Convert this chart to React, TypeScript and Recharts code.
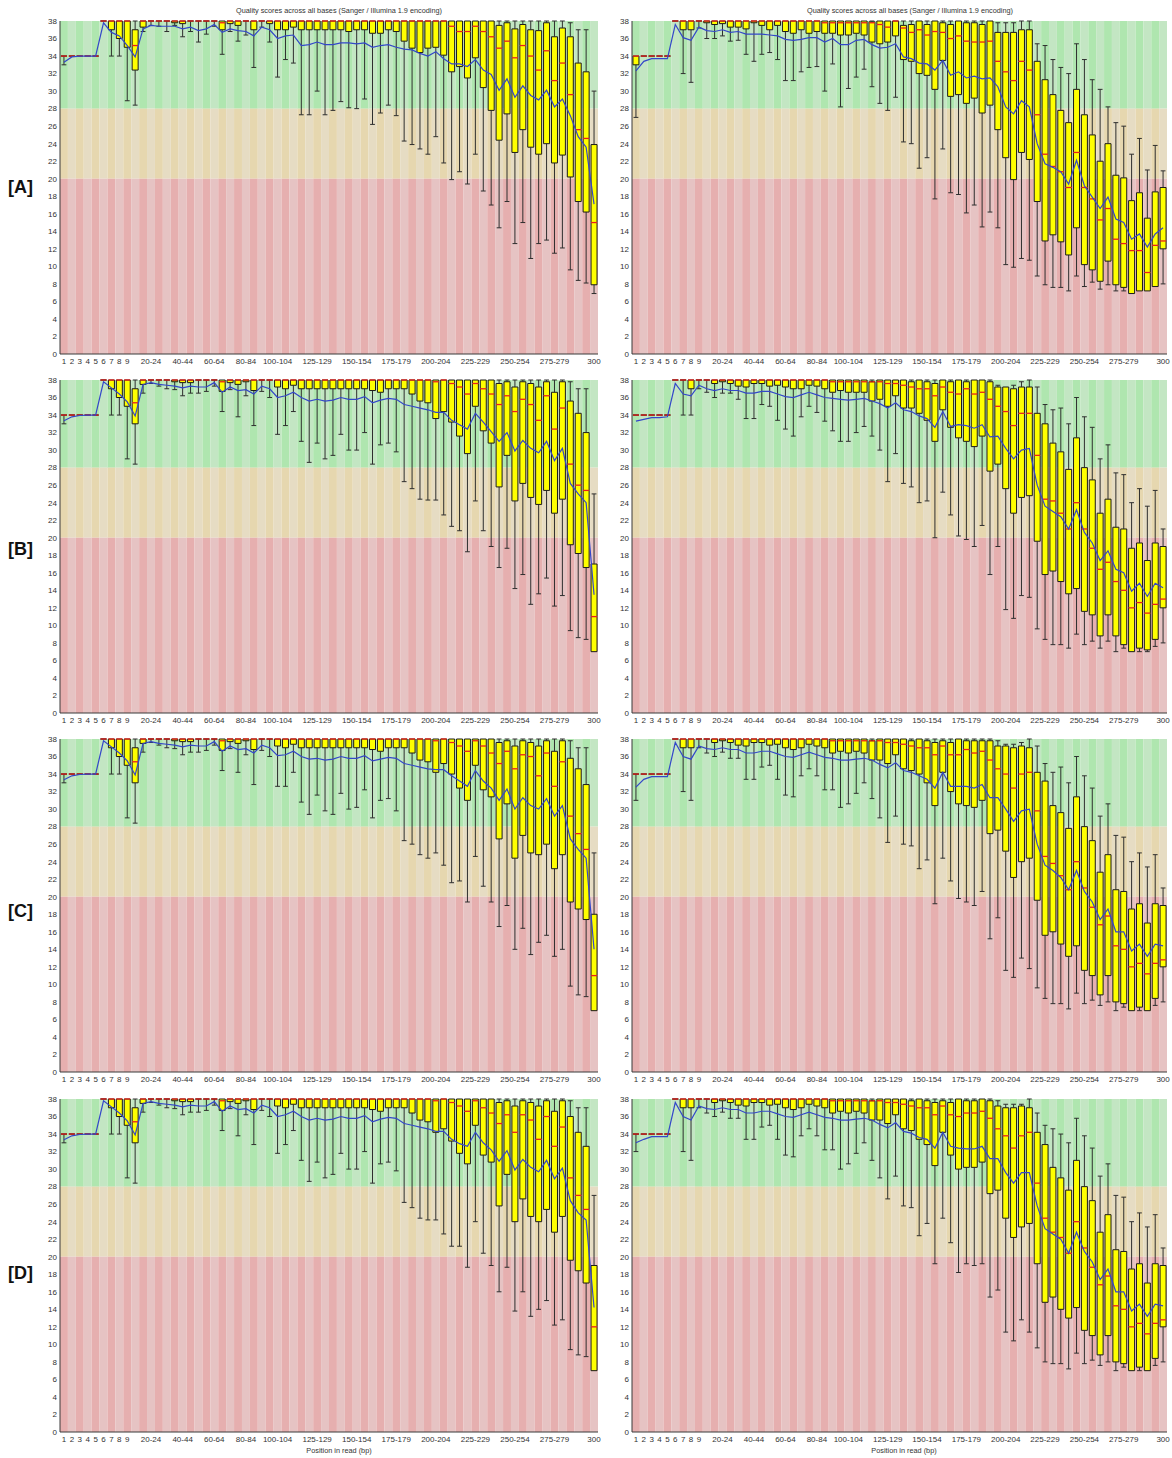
import React from 'react';
import { ComposedChart, Bar, Line, XAxis, YAxis, ReferenceArea } from 'recharts';

// Read positions (FastQC grouping for 300 bp reads)
const positions = [
  '1', '2', '3', '4', '5', '6', '7', '8', '9', '10-14',
  '15-19', '20-24', '25-29', '30-34', '35-39', '40-44', '45-49', '50-54', '55-59', '60-64',
  '65-69', '70-74', '75-79', '80-84', '85-89', '90-94', '95-99', '100-104', '105-109', '110-114',
  '115-119', '120-124', '125-129', '130-134', '135-139', '140-144', '145-149', '150-154', '155-159', '160-164',
  '165-169', '170-174', '175-179', '180-184', '185-189', '190-194', '195-199', '200-204', '205-209', '210-214',
  '215-219', '220-224', '225-229', '230-234', '235-239', '240-244', '245-249', '250-254', '255-259', '260-264',
  '265-269', '270-274', '275-279', '280-284', '285-289', '290-294', '295-299', '300',
];

const shownPositions = [
  '1', '2', '3', '4', '5', '6', '7', '8', '9', '20-24', '40-44', '60-64', '80-84', '100-104',
  '125-129', '150-154', '175-179', '200-204', '225-229', '250-254', '275-279', '300',
];

const qualityTicks = [0, 2, 4, 6, 8, 10, 12, 14, 16, 18, 20, 22, 24, 26, 28, 30, 32, 34, 36, 38];

const panelLetters = ['[A]', '[B]', '[C]', '[D]'];
const chartTitle = 'Quality scores across all bases (Sanger / Illumina 1.9 encoding)';
const axisTitle = 'Position in read (bp)';

// ---------- [A] left ----------
const aLeftP10 = [
  33, 34, 34, 34, 34, 38, 34, 34, 28.9, 28.4,
  36.8, 37.5, 37.4, 36.8, 37.5, 36.2, 36.8, 35.6, 36.5, 37.4,
  34.2, 36.8, 35.7, 36.4, 32.7, 37.3, 35.6, 31.6, 33.6, 33.2,
  27.3, 27.3, 30.0, 27.3, 27.8, 28.8, 28.1, 28.0, 29.1, 26.2,
  27.5, 28.4, 27.2, 24.3, 23.9, 23.4, 22.8, 24.8, 21.8, 19.9,
  20.8, 19.4, 22.8, 18.6, 17.0, 14.4, 17.4, 12.6, 15.0, 10.9,
  12.6, 13.0, 11.5, 12.1, 9.6, 8.4, 8.1, 6.9,
];
const aLeftQ1 = [
  34, 34, 34, 34, 34, 38, 37, 36, 35, 32.4,
  37.3, 38, 38, 38, 37.8, 37.7, 38, 38, 38, 38,
  37.0, 37.7, 37.5, 38, 37, 38, 37.7, 37, 37, 37.3,
  37, 37, 37, 37, 37, 37.0, 36.8, 37.0, 37.0, 36.6,
  36.6, 37.0, 36.8, 35.7, 34.9, 34.4, 34.9, 35.0, 34.1, 32.2,
  32.8, 31.5, 33.8, 30.4, 27.8, 24.4, 27.4, 23.0, 25.6, 23.6,
  22.8, 24.0, 21.8, 22.7, 20.2, 17.4, 16.2, 7.9,
];
const aLeftMedian = [
  34, 34, 34, 34, 34, 38, 38, 38, 38, 35.2,
  38, 38, 38, 38, 38, 38, 38, 38, 38, 38,
  37.8, 38, 38, 38, 38, 38, 38, 38, 38, 38,
  38, 38, 38, 38, 38, 38, 38, 38, 38, 38,
  38, 38, 38, 38, 38, 38, 38, 38, 38, 37.4,
  36.8, 36.8, 37.4, 36.8, 36.2, 34.9, 35.7, 33.8, 35.2, 34.0,
  32.4, 34.6, 31.2, 33.2, 29.6, 25.6, 24.6, 15.0,
];
const aLeftQ3 = [
  34, 34, 34, 34, 34, 38, 38, 38, 38, 37,
  38, 38, 38, 38, 38, 38, 38, 38, 38, 38,
  38, 38, 38, 38, 38, 38, 38, 38, 38, 38,
  38, 38, 38, 38, 38, 38, 38, 38, 38, 38,
  38, 38, 38, 38, 38, 38, 38, 38, 38, 38,
  38, 38, 38, 38, 38, 37.5, 37.8, 37.1, 37.6, 37.0,
  36.9, 37.8, 36.2, 37.2, 36.2, 33.2, 32.2, 23.9,
];
const aLeftP90 = [
  34, 34, 34, 34, 34, 38, 38, 38, 38, 38,
  38, 38, 38, 38, 38, 38, 38, 38, 38, 38,
  38, 38, 38, 38, 38, 38, 38, 38, 38, 38,
  38, 38, 38, 38, 38, 38, 38, 38, 38, 38,
  38, 38, 38, 38, 38, 38, 38, 38, 38, 38,
  38, 38, 38, 38, 38, 38, 38, 38, 38, 38,
  38, 38, 38, 38, 37.8, 37.0, 37.0, 30.0,
];
const aLeftMean = [
  33.3, 33.9, 34, 34, 34, 37.8, 36.7, 36.3, 35.2, 33.9,
  37.1, 37.5, 37.4, 37.4, 37.4, 37.1, 37.3, 36.9, 37.1, 37.6,
  36.7, 37.1, 36.9, 36.8, 36.3, 37.3, 37.0, 36.0, 36.3, 36.4,
  35.2, 35.3, 35.6, 35.3, 35.3, 35.5, 35.5, 35.4, 35.5, 35.0,
  35.2, 35.3, 35.0, 34.8, 34.7, 34.3, 34.0, 34.5, 33.7, 33.1,
  33.1, 32.8, 33.6, 32.4, 31.9, 30.1, 31.4, 29.3, 30.6, 29.5,
  29.0, 30.1, 28.2, 29.1, 27.2, 24.8, 23.6, 17.1,
];

// ---------- [A] right ----------
const aRightP10 = [
  27.0, 34, 34, 34, 34, 38, 32.0, 31.0, 37.2, 36.0,
  36.0, 36.3, 35.7, 35.8, 34.2, 33.4, 34.2, 34.4, 33.6, 31.2,
  31.2, 32.2, 32.7, 32.8, 30.0, 33.1, 28.2, 30.3, 31.6, 32.5,
  30.5, 28.6, 27.8, 29.3, 24.2, 24.0, 21.2, 22.4, 17.7, 23.4,
  18.4, 18.2, 16.1, 17.0, 14.5, 16.2, 14.4, 10.2, 9.9, 10.9,
  10.7, 8.9, 7.9, 7.6, 7.6, 7.2, 8.9, 7.7, 8.2, 7.4,
  7.9, 7.2, 7.2, 6.9, 7.2, 7.2, 7.7, 8.0,
];
const aRightQ1 = [
  33.0, 34, 34, 34, 34, 38, 37, 37, 38, 37.8,
  37.6, 37.7, 37.3, 37.3, 37.1, 37.8, 37.5, 37.0, 37.5, 36.8,
  36.6, 37.0, 36.6, 36.8, 36.6, 36.6, 36.4, 36.4, 36.6, 36.4,
  35.6, 35.4, 35.6, 36.3, 33.6, 33.4, 32.0, 31.8, 30.2, 33.5,
  29.4, 29.6, 28.6, 29.2, 27.5, 28.4, 25.6, 22.4, 19.9, 23.0,
  22.2, 17.4, 12.9, 13.6, 12.8, 11.3, 14.4, 10.2, 9.6, 8.3,
  10.6, 7.9, 7.6, 6.9, 7.2, 7.2, 7.7, 12.0,
];
const aRightMedian = [
  34, 34, 34, 34, 34, 38, 38, 38, 38, 38,
  38, 38, 38, 38, 38, 38, 38, 38, 38, 38,
  38, 38, 38, 38, 37.8, 37.8, 37.8, 37.8, 37.8, 37.8,
  37.8, 37.6, 37.3, 38, 37.2, 36.7, 37.0, 36.4, 36.8, 36.7,
  36.0, 36.3, 35.7, 35.6, 35.6, 35.7, 33.4, 32.2, 31.2, 33.4,
  32.4, 27.3, 22.8, 21.4, 20.8, 19.0, 23.0, 19.0, 17.7, 15.3,
  16.6, 13.1, 12.6, 11.8, 11.8, 9.3, 12.4, 12.9,
];
const aRightQ3 = [
  34, 34, 34, 34, 34, 38, 38, 38, 38, 38,
  38, 38, 38, 38, 38, 38, 38, 38, 38, 38,
  38, 38, 38, 38, 38, 38, 38, 38, 38, 38,
  37.9, 38, 38, 38, 37.5, 37.6, 38, 37.6, 38, 37.8,
  37.6, 38, 37.8, 37.8, 37.6, 38, 36.7, 36.7, 36.7, 37.0,
  37.0, 33.4, 31.3, 29.6, 27.8, 26.4, 30.2, 27.3, 25.0, 22.0,
  24.0, 20.4, 20.1, 17.5, 18.4, 15.5, 18.5, 19.0,
];
const aRightP90 = [
  34, 34, 34, 34, 34, 38, 38, 38, 38, 38,
  38, 38, 38, 38, 38, 38, 38, 38, 38, 38,
  38, 38, 38, 38, 38, 38, 38, 38, 38, 38,
  38, 38, 38, 38, 38, 38, 38, 38, 38, 38,
  38, 38, 38, 38, 38, 38, 37.8, 37.8, 37.8, 38,
  38, 35.4, 35.2, 33.6, 32.7, 32.0, 35.4, 33.6, 31.3, 30.2,
  28.2, 26.4, 26.0, 22.8, 24.6, 21.0, 23.8, 20.9,
];
const aRightMean = [
  32.3, 33.4, 33.7, 33.7, 33.7, 37.6, 36.1, 35.8, 37.3, 36.9,
  36.8, 37.0, 36.7, 36.8, 36.5, 36.5, 36.5, 36.4, 36.3, 35.9,
  35.8, 35.9, 36.1, 36.1, 35.6, 36.0, 35.3, 35.3, 35.8, 35.9,
  35.3, 34.9, 35.0, 35.4, 33.9, 33.7, 33.2, 33.1, 32.4, 33.5,
  31.8, 32.2, 31.5, 31.7, 31.4, 31.5, 30.5, 28.2, 27.4, 28.9,
  28.2, 24.0, 21.7, 21.3, 20.8, 19.4, 22.1, 19.2, 17.9, 16.6,
  17.9, 15.4, 15.0, 13.1, 13.7, 12.2, 13.7, 14.4,
];

// ---------- [B] left ----------
const bLeftP10 = [
  33, 34, 34, 34, 34, 38, 34, 34, 29, 28.4,
  36.5, 37.6, 37.3, 37.0, 36.9, 36.2, 36.5, 36.5, 36.7, 37.3,
  34.4, 36.9, 33.8, 36.2, 32.8, 36.7, 36.0, 31.8, 32.8, 34.4,
  31.0, 28.6, 30.8, 29.0, 29.4, 31.8, 30.0, 30.0, 32.0, 28.4,
  30.6, 30.8, 29.8, 26.4, 25.6, 24.4, 24.3, 24.3, 22.6, 21.3,
  20.8, 18.4, 24.2, 20.8, 19.0, 16.6, 18.8, 14.2, 15.8, 12.4,
  13.6, 15.4, 12.2, 13.4, 9.4, 8.6, 8.4, 7.0,
];
const bLeftQ1 = [
  34, 34, 34, 34, 34, 38, 37, 36, 35, 33,
  37.5, 38, 38, 38, 37.8, 37.7, 37.7, 38, 38, 38,
  36.7, 37.7, 37.5, 37.8, 36.8, 38, 38, 37.2, 37, 37.4,
  37, 37, 37, 37, 37, 37, 37, 37, 37, 36.8,
  36.6, 37, 37, 37, 36.4, 35.6, 35.4, 33.6, 34.4, 33.2,
  31.6, 29.6, 35.0, 32.2, 30.8, 25.8, 29.4, 24.2, 26.2, 24.6,
  23.8, 25.4, 22.8, 24.4, 19.2, 18.2, 16.6, 7.0,
];
const bLeftMedian = [
  34, 34, 34, 34, 34, 38, 38, 38, 38, 35.4,
  38, 38, 38, 38, 38, 38, 38, 38, 38, 38,
  37.8, 38, 38, 38, 38, 38, 38, 38, 38, 38,
  38, 38, 38, 38, 38, 38, 38, 38, 38, 38,
  38, 38, 38, 38, 38, 38, 38, 37.8, 38, 37.6,
  37.2, 36.4, 37.6, 37.0, 36.4, 35.2, 36.2, 34.4, 35.8, 35.2,
  33.4, 36.2, 32.4, 34.8, 28.4, 26.0, 25.4, 11.0,
];
const bLeftQ3 = [
  34, 34, 34, 34, 34, 38, 38, 38, 38, 37,
  38, 38, 38, 38, 38, 38, 38, 38, 38, 38,
  38, 38, 38, 38, 38, 38, 38, 38, 38, 38,
  38, 38, 38, 38, 38, 38, 38, 38, 38, 38,
  38, 38, 38, 38, 38, 38, 38, 38, 38, 38,
  38, 38, 38, 38, 38, 37.6, 37.8, 37.2, 37.8, 37.6,
  37.2, 37.8, 36.6, 37.8, 35.6, 34.2, 32.0, 17.0,
];
const bLeftP90 = [
  34, 34, 34, 34, 34, 38, 38, 38, 38, 38,
  38, 38, 38, 38, 38, 38, 38, 38, 38, 38,
  38, 38, 38, 38, 38, 38, 38, 38, 38, 38,
  38, 38, 38, 38, 38, 38, 38, 38, 38, 38,
  38, 38, 38, 38, 38, 38, 38, 38, 38, 38,
  38, 38, 38, 38, 38, 38, 38, 38, 38, 38,
  38, 38, 38, 38, 37.8, 37.0, 37.0, 25.0,
];
const bLeftMean = [
  33.35, 33.8, 33.95, 34, 34, 37.8, 37.1, 36.4, 35.5, 33.9,
  37.5, 37.7, 37.5, 37.4, 37.3, 37.1, 37.3, 37.2, 37.2, 37.7,
  36.6, 37.2, 36.8, 36.9, 36.4, 37.3, 37.0, 36.0, 36.2, 36.6,
  36.0, 35.6, 35.8, 35.6, 35.7, 36.0, 35.8, 35.8, 36.1, 35.4,
  35.7, 35.9, 35.8, 35.2, 35.0, 34.8, 34.6, 34.3, 34.3, 33.4,
  32.9, 32.4, 34.2, 33.2, 32.1, 31.0, 32.0, 29.9, 31.1, 30.2,
  29.7, 31.0, 28.8, 30.2, 26.2, 25.0, 24.0, 13.5,
];

// ---------- [B] right ----------
const bRightP10 = [
  34, 34, 34, 34, 34, 38, 34.0, 34.0, 37.0, 36.6,
  36.0, 36.5, 36.5, 35.8, 33.6, 33.6, 35.2, 35.0, 33.4, 32.4,
  31.6, 33.8, 35.0, 34.3, 33.3, 32.2, 31.0, 31.0, 32.0, 32.7,
  31.6, 30.0, 26.4, 29.6, 26.2, 25.8, 24.0, 24.2, 20.0, 25.2,
  22.6, 20.2, 19.8, 19.0, 21.4, 15.8, 19.0, 11.8, 10.8, 13.4,
  13.2, 9.6, 8.4, 7.8, 7.8, 7.4, 9.0, 7.8, 8.2, 7.4,
  8.2, 7.0, 7.4, 7.0, 7.0, 7.0, 7.6, 8.0,
];
const bRightQ1 = [
  34, 34, 34, 34, 34, 38, 38, 37.0, 38, 38,
  37.6, 37.8, 37.6, 37.3, 37.2, 37.6, 37.6, 37.3, 37.4, 37.2,
  37.0, 37.0, 37.4, 37.3, 37.0, 36.6, 36.8, 36.6, 36.6, 36.6,
  35.6, 35.8, 35.0, 36.2, 34.8, 34.8, 34.2, 33.4, 31.0, 34.6,
  32.6, 31.4, 31.0, 30.4, 31.6, 27.6, 28.4, 25.6, 22.8, 24.6,
  24.8, 19.6, 15.8, 16.2, 15.0, 13.6, 14.2, 11.6, 11.2, 8.8,
  11.2, 8.8, 7.8, 7.0, 7.4, 7.2, 8.4, 12.0,
];
const bRightMedian = [
  34, 34, 34, 34, 34, 38, 38, 38, 38, 38,
  38, 38, 38, 38, 38, 38, 38, 38, 38, 38,
  38, 38, 38, 38, 38, 37.8, 37.8, 37.8, 37.8, 37.8,
  37.8, 37.8, 37.6, 37.6, 37.4, 37.2, 37.0, 37.0, 36.2, 37.2,
  36.6, 36.4, 37.0, 36.4, 36.6, 35.8, 35.0, 34.4, 32.8, 34.2,
  34.2, 29.4, 24.4, 24.2, 22.8, 21.0, 24.0, 21.0, 18.8, 16.4,
  17.2, 15.0, 14.0, 12.0, 12.6, 11.4, 12.4, 13.0,
];
const bRightQ3 = [
  34, 34, 34, 34, 34, 38, 38, 38, 38, 38,
  38, 38, 38, 38, 38, 38, 38, 38, 38, 38,
  38, 38, 38, 38, 38, 38, 38, 38, 38, 38,
  37.8, 38, 38, 38, 38, 37.8, 38, 37.8, 37.6, 38,
  37.8, 38, 37.8, 38, 38, 37.8, 37.2, 37.2, 37.0, 37.2,
  37.2, 34.2, 33.0, 30.8, 29.8, 27.8, 31.4, 28.0, 26.6, 22.8,
  24.4, 21.2, 21.0, 18.8, 19.4, 17.4, 19.4, 19.0,
];
const bRightP90 = [
  34, 34, 34, 34, 34, 38, 38, 38, 38, 38,
  38, 38, 38, 38, 38, 38, 38, 38, 38, 38,
  38, 38, 38, 38, 38, 38, 38, 38, 38, 38,
  38, 38, 38, 38, 38, 38, 38, 38, 38, 38,
  38, 38, 38, 38, 38, 38, 37.4, 37.2, 37.4, 37.8,
  38, 37.2, 35.2, 34.6, 34.8, 33.0, 36.0, 33.8, 32.6, 29.0,
  30.6, 27.4, 27.2, 24.0, 25.6, 23.6, 25.4, 21.0,
];
const bRightMean = [
  33.3, 33.5, 33.7, 33.7, 33.8, 37.6, 36.4, 36.2, 37.4, 37.0,
  36.8, 37.0, 36.8, 36.8, 36.5, 36.5, 36.7, 36.7, 36.4, 36.1,
  36.0, 36.3, 36.6, 36.3, 36.0, 35.9, 35.8, 35.7, 35.8, 35.9,
  35.6, 35.3, 34.8, 35.4, 34.6, 34.4, 33.9, 33.6, 32.6, 34.4,
  32.7, 32.9, 32.8, 32.5, 32.9, 31.5, 31.6, 30.2, 29.0, 30.0,
  30.2, 26.0, 23.6, 23.0, 22.4, 21.0, 23.2, 20.6, 19.4, 17.4,
  18.5, 16.4, 16.0, 13.9, 14.8, 13.3, 14.8, 14.3,
];

// ---------- [C] left ----------
const cLeftP10 = [
  33, 34, 34, 34, 34, 38, 34, 34, 29, 28.4,
  36.5, 37.6, 37.3, 37.0, 36.9, 36.2, 36.5, 36.5, 36.7, 37.3,
  34.4, 36.9, 34.2, 36.2, 32.8, 36.7, 36.0, 32.6, 32.6, 34.2,
  30.8, 29.4, 31.6, 29.8, 29.4, 31.8, 30.0, 30.2, 32.2, 29.0,
  31.0, 31.2, 29.8, 26.4, 26.0, 24.8, 24.4, 25.0, 23.6, 21.6,
  21.8, 19.4, 24.6, 21.2, 19.4, 16.6, 19.0, 14.0, 16.4, 13.4,
  14.8, 15.6, 13.2, 14.0, 9.8, 8.8, 8.6, 7.0,
];
const cLeftQ1 = [
  34, 34, 34, 34, 34, 38, 37, 36, 35, 33,
  37.5, 38, 38, 38, 37.8, 37.7, 37.7, 38, 38, 38,
  36.7, 37.7, 37.5, 37.8, 36.8, 38, 38, 37.2, 37, 37.4,
  37, 37, 37, 37, 37, 37, 37, 37, 37, 36.8,
  36.6, 37, 37, 37, 36.4, 35.6, 35.4, 34.2, 35.2, 34.0,
  32.4, 31.0, 35.0, 32.2, 31.4, 26.6, 30.6, 24.4, 27.0, 25.0,
  24.8, 26.0, 23.2, 24.8, 19.4, 18.6, 17.4, 7.0,
];
const cLeftMedian = [
  34, 34, 34, 34, 34, 38, 38, 38, 38, 35.4,
  38, 38, 38, 38, 38, 38, 38, 38, 38, 38,
  37.8, 38, 38, 38, 38, 38, 38, 38, 38, 38,
  38, 38, 38, 38, 38, 38, 38, 38, 38, 38,
  38, 38, 38, 38, 38, 38, 38, 37.8, 38, 37.6,
  37.2, 36.6, 37.8, 37.2, 36.4, 35.2, 36.6, 34.6, 36.2, 36.0,
  33.8, 36.4, 32.6, 35.4, 29.2, 27.2, 25.4, 11.0,
];
const cLeftQ3 = [
  34, 34, 34, 34, 34, 38, 38, 38, 38, 37,
  38, 38, 38, 38, 38, 38, 38, 38, 38, 38,
  38, 38, 38, 38, 38, 38, 38, 38, 38, 38,
  38, 38, 38, 38, 38, 38, 38, 38, 38, 38,
  38, 38, 38, 38, 38, 38, 38, 38, 38, 38,
  38, 38, 38, 38, 38, 37.6, 37.8, 37.2, 37.8, 37.6,
  37.2, 37.8, 36.6, 37.8, 35.8, 34.6, 32.8, 18.0,
];
const cLeftP90 = [
  34, 34, 34, 34, 34, 38, 38, 38, 38, 38,
  38, 38, 38, 38, 38, 38, 38, 38, 38, 38,
  38, 38, 38, 38, 38, 38, 38, 38, 38, 38,
  38, 38, 38, 38, 38, 38, 38, 38, 38, 38,
  38, 38, 38, 38, 38, 38, 38, 38, 38, 38,
  38, 38, 38, 38, 38, 38, 38, 38, 38, 38,
  38, 38, 38, 38, 37.8, 37.0, 37.0, 25.0,
];
const cLeftMean = [
  33.35, 33.8, 33.95, 34, 34, 37.8, 37.1, 36.4, 35.5, 33.9,
  37.5, 37.7, 37.5, 37.4, 37.3, 37.1, 37.3, 37.2, 37.2, 37.7,
  36.6, 37.2, 36.8, 36.9, 36.4, 37.3, 37.0, 36.1, 36.2, 36.6,
  36.0, 35.7, 35.8, 35.6, 35.7, 36.0, 35.8, 35.8, 36.1, 35.5,
  35.7, 35.9, 35.8, 35.2, 35.0, 34.8, 34.6, 34.5, 34.5, 33.8,
  33.2, 32.6, 34.4, 33.2, 32.4, 31.0, 32.3, 30.0, 31.3, 30.4,
  30.0, 31.2, 29.2, 30.4, 26.6, 25.4, 24.4, 14.0,
];

// ---------- [C] right ----------
const cRightP10 = [
  31.0, 34, 34, 34, 34, 38, 32.0, 31.0, 37.0, 36.4,
  36.0, 36.5, 35.8, 35.8, 33.4, 33.4, 34.8, 35.0, 33.4, 31.6,
  31.4, 33.8, 34.6, 33.8, 32.2, 32.2, 30.2, 30.6, 31.8, 33.0,
  31.2, 29.0, 26.2, 29.2, 26.0, 25.8, 23.2, 24.2, 19.2, 24.4,
  21.8, 19.8, 19.4, 19.0, 20.6, 15.2, 17.6, 11.6, 10.8, 13.0,
  11.8, 9.6, 8.4, 7.8, 7.8, 7.2, 9.0, 7.8, 8.2, 7.6,
  8.0, 7.0, 7.4, 7.0, 7.0, 7.0, 7.6, 8.0,
];
const cRightQ1 = [
  34, 34, 34, 34, 34, 38, 37.0, 37.0, 38, 38,
  37.6, 37.8, 37.6, 37.3, 37.2, 37.6, 37.6, 37.3, 37.4, 37.0,
  36.8, 37.0, 37.4, 37.2, 37.0, 36.4, 36.6, 36.4, 36.6, 36.4,
  35.6, 35.6, 35.2, 36.2, 34.6, 34.4, 34.0, 33.0, 30.4, 34.2,
  32.0, 30.6, 30.4, 30.2, 31.0, 27.2, 27.6, 25.2, 22.2, 24.0,
  24.4, 19.6, 15.6, 16.0, 14.6, 13.2, 14.4, 11.6, 11.0, 8.8,
  11.0, 8.0, 7.8, 7.0, 7.4, 7.0, 8.4, 12.0,
];
const cRightMedian = [
  34, 34, 34, 34, 34, 38, 38, 38, 38, 38,
  38, 38, 38, 38, 38, 38, 38, 38, 38, 38,
  38, 38, 38, 38, 38, 37.8, 37.8, 37.8, 37.8, 37.8,
  37.8, 37.8, 37.6, 37.6, 37.4, 37.2, 37.0, 37.0, 36.2, 37.2,
  36.2, 36.2, 36.8, 36.4, 36.6, 35.6, 34.6, 34.0, 32.4, 34.0,
  34.2, 29.8, 24.6, 23.8, 22.4, 20.8, 24.0, 21.0, 18.8, 16.8,
  17.8, 14.4, 14.0, 12.0, 12.4, 11.2, 12.4, 12.8,
];
const cRightQ3 = [
  34, 34, 34, 34, 34, 38, 38, 38, 38, 38,
  38, 38, 38, 38, 38, 38, 38, 38, 38, 38,
  38, 38, 38, 38, 38, 38, 38, 38, 38, 38,
  37.8, 38, 38, 38, 38, 37.8, 38, 37.8, 37.6, 37.8,
  37.6, 38, 37.8, 37.8, 37.8, 37.8, 37.2, 37.2, 37.0, 37.2,
  37.0, 34.2, 33.2, 30.4, 29.6, 27.8, 31.4, 28.0, 26.4, 22.8,
  24.8, 20.8, 20.6, 18.6, 19.2, 17.0, 19.2, 19.0,
];
const cRightP90 = [
  34, 34, 34, 34, 34, 38, 38, 38, 38, 38,
  38, 38, 38, 38, 38, 38, 38, 38, 38, 38,
  38, 38, 38, 38, 38, 38, 38, 38, 38, 38,
  38, 38, 38, 38, 38, 38, 38, 38, 38, 38,
  38, 38, 38, 38, 38, 38, 37.8, 37.4, 37.4, 37.6,
  38, 37.2, 35.2, 34.2, 34.8, 33.0, 36.0, 33.8, 32.4, 29.2,
  30.6, 27.0, 26.8, 24.0, 25.0, 23.4, 24.8, 21.0,
];
const cRightMean = [
  32.5, 33.4, 33.7, 33.7, 33.7, 37.6, 36.0, 35.7, 37.2, 36.9,
  36.8, 37.0, 36.8, 36.8, 36.4, 36.4, 36.6, 36.6, 36.3, 36.0,
  35.9, 36.2, 36.5, 36.2, 35.9, 35.8, 35.6, 35.6, 35.7, 35.8,
  35.6, 35.1, 34.7, 35.3, 34.4, 34.2, 33.8, 33.4, 32.4, 34.2,
  32.6, 32.6, 32.6, 32.4, 32.8, 31.3, 31.3, 30.0, 28.6, 29.8,
  30.0, 26.0, 23.6, 23.0, 22.2, 20.8, 23.0, 20.6, 19.4, 17.4,
  18.6, 16.0, 16.0, 13.8, 14.6, 13.2, 14.6, 14.4,
];

// ---------- [D] left ----------
const dLeftP10 = [
  33, 34, 34, 34, 34, 38, 34, 34, 29, 28.4,
  36.5, 37.6, 37.3, 37.0, 36.9, 36.2, 36.5, 36.5, 36.7, 37.3,
  34.4, 36.9, 33.8, 36.2, 32.8, 36.7, 36.0, 31.8, 32.8, 34.4,
  31.0, 28.6, 30.8, 29.0, 29.4, 31.8, 30.0, 30.0, 32.0, 28.4,
  30.6, 30.8, 29.8, 26.2, 25.6, 24.4, 24.2, 24.2, 22.6, 21.2,
  21.2, 18.8, 24.0, 20.4, 19.0, 16.0, 18.8, 13.8, 16.0, 13.2,
  14.0, 15.0, 12.2, 12.8, 9.4, 8.8, 8.6, 7.0,
];
const dLeftQ1 = [
  34, 34, 34, 34, 34, 38, 37, 36, 35, 33,
  37.5, 38, 38, 38, 37.8, 37.7, 37.7, 38, 38, 38,
  36.7, 37.7, 37.5, 37.8, 36.8, 38, 38, 37.2, 37, 37.4,
  37, 37, 37, 37, 37, 37, 37, 37, 37, 36.8,
  36.6, 37, 37, 37, 36.4, 35.6, 35.4, 34.2, 34.6, 33.2,
  31.8, 30.6, 35.0, 31.6, 30.8, 25.8, 29.4, 24.0, 26.6, 24.6,
  24.0, 25.4, 22.8, 24.6, 19.6, 18.4, 17.0, 7.0,
];
const dLeftMedian = [
  34, 34, 34, 34, 34, 38, 38, 38, 38, 35.4,
  38, 38, 38, 38, 38, 38, 38, 38, 38, 38,
  37.8, 38, 38, 38, 38, 38, 38, 38, 38, 38,
  38, 38, 38, 38, 38, 38, 38, 38, 38, 38,
  38, 38, 38, 38, 38, 38, 38, 37.8, 38, 37.6,
  37.2, 36.6, 37.8, 37.0, 36.4, 35.2, 36.2, 34.2, 36.2, 35.6,
  33.4, 36.0, 32.6, 34.8, 29.0, 27.0, 25.4, 12.0,
];
const dLeftQ3 = [
  34, 34, 34, 34, 34, 38, 38, 38, 38, 37,
  38, 38, 38, 38, 38, 38, 38, 38, 38, 38,
  38, 38, 38, 38, 38, 38, 38, 38, 38, 38,
  38, 38, 38, 38, 38, 38, 38, 38, 38, 38,
  38, 38, 38, 38, 38, 38, 38, 38, 38, 38,
  38, 38, 38, 38, 38, 37.6, 37.8, 37.2, 37.8, 37.6,
  37.2, 37.8, 36.6, 37.8, 36.0, 34.2, 32.6, 19.0,
];
const dLeftP90 = [
  34, 34, 34, 34, 34, 38, 38, 38, 38, 38,
  38, 38, 38, 38, 38, 38, 38, 38, 38, 38,
  38, 38, 38, 38, 38, 38, 38, 38, 38, 38,
  38, 38, 38, 38, 38, 38, 38, 38, 38, 38,
  38, 38, 38, 38, 38, 38, 38, 38, 38, 38,
  38, 38, 38, 38, 38, 38, 38, 38, 38, 38,
  38, 38, 38, 38, 37.8, 37.0, 37.0, 27.0,
];
const dLeftMean = [
  33.35, 33.8, 33.95, 34, 34, 37.8, 37.1, 36.4, 35.5, 33.9,
  37.5, 37.7, 37.5, 37.4, 37.3, 37.1, 37.3, 37.2, 37.2, 37.7,
  36.6, 37.2, 36.8, 36.9, 36.4, 37.3, 37.0, 36.0, 36.2, 36.6,
  36.0, 35.6, 35.8, 35.6, 35.7, 36.0, 35.8, 35.8, 36.1, 35.4,
  35.7, 35.9, 35.8, 35.2, 35.0, 34.8, 34.6, 34.3, 34.3, 33.4,
  32.9, 32.6, 34.2, 33.0, 32.2, 30.9, 32.1, 29.9, 31.1, 30.2,
  29.7, 31.0, 28.9, 30.1, 26.4, 25.0, 24.2, 14.2,
];

// ---------- [D] right ----------
const dRightP10 = [
  32.0, 34, 34, 34, 34, 38, 32.0, 31.0, 37.0, 36.4,
  36.0, 36.5, 35.8, 35.8, 33.4, 33.4, 34.8, 35.0, 33.4, 31.6,
  31.4, 33.8, 34.6, 33.8, 32.2, 32.2, 30.0, 30.6, 31.8, 33.0,
  31.0, 29.0, 26.6, 29.2, 25.8, 25.6, 22.4, 23.8, 19.2, 24.4,
  21.6, 18.2, 19.2, 19.0, 19.2, 15.4, 16.2, 11.4, 10.4, 12.8,
  11.4, 9.6, 8.0, 7.8, 7.8, 7.2, 9.0, 7.8, 8.2, 7.6,
  8.0, 7.0, 7.4, 7.0, 7.0, 7.0, 7.6, 8.0,
];
const dRightQ1 = [
  34, 34, 34, 34, 34, 38, 37.0, 37.0, 38, 38,
  37.6, 37.8, 37.6, 37.3, 37.2, 37.6, 37.6, 37.3, 37.4, 37.0,
  36.8, 37.0, 37.4, 37.2, 37.0, 36.4, 36.6, 36.4, 36.6, 36.4,
  35.6, 35.6, 35.2, 36.2, 34.6, 34.4, 33.4, 32.8, 30.4, 34.2,
  31.6, 30.0, 30.2, 30.2, 30.8, 27.2, 27.6, 24.4, 22.2, 23.4,
  23.8, 19.2, 14.8, 15.4, 14.0, 13.0, 14.2, 11.6, 11.0, 8.8,
  11.0, 8.0, 7.8, 7.0, 7.4, 7.0, 8.4, 12.0,
];
const dRightMedian = [
  34, 34, 34, 34, 34, 38, 38, 38, 38, 38,
  38, 38, 38, 38, 38, 38, 38, 38, 38, 38,
  38, 38, 38, 38, 38, 37.8, 37.8, 37.8, 37.8, 37.8,
  37.8, 37.8, 37.6, 37.6, 37.4, 37.2, 37.0, 37.0, 36.2, 37.2,
  36.2, 36.0, 36.4, 36.4, 36.6, 35.8, 34.6, 33.8, 32.4, 33.8,
  34.2, 28.4, 24.4, 22.8, 22.2, 20.4, 24.0, 21.0, 18.8, 16.8,
  17.8, 14.4, 14.0, 12.0, 12.4, 11.2, 12.4, 12.8,
];
const dRightQ3 = [
  34, 34, 34, 34, 34, 38, 38, 38, 38, 38,
  38, 38, 38, 38, 38, 38, 38, 38, 38, 38,
  38, 38, 38, 38, 38, 38, 38, 38, 38, 38,
  37.8, 38, 38, 38, 38, 37.8, 38, 37.8, 37.6, 37.8,
  37.6, 38, 37.8, 37.8, 38, 37.8, 37.2, 37.0, 37.0, 37.2,
  37.0, 34.2, 32.8, 30.2, 29.0, 27.6, 31.0, 28.0, 26.4, 22.8,
  24.8, 20.8, 20.6, 18.6, 19.2, 17.0, 19.2, 19.0,
];
const dRightP90 = [
  34, 34, 34, 34, 34, 38, 38, 38, 38, 38,
  38, 38, 38, 38, 38, 38, 38, 38, 38, 38,
  38, 38, 38, 38, 38, 38, 38, 38, 38, 38,
  38, 38, 38, 38, 38, 38, 38, 38, 38, 38,
  38, 38, 38, 38, 38, 38, 37.8, 37.4, 37.4, 37.4,
  38, 36.4, 35.0, 34.6, 34.0, 33.0, 35.8, 33.8, 32.4, 29.2,
  30.6, 27.0, 26.8, 24.0, 25.0, 23.4, 24.8, 21.0,
];
const dRightMean = [
  33.0, 33.4, 33.7, 33.7, 33.7, 37.6, 36.0, 35.6, 37.2, 36.9,
  36.8, 37.0, 36.8, 36.8, 36.4, 36.4, 36.6, 36.6, 36.3, 36.0,
  35.9, 36.2, 36.5, 36.2, 35.9, 35.8, 35.6, 35.6, 35.7, 35.8,
  35.6, 35.1, 34.7, 35.3, 34.3, 34.1, 33.6, 33.4, 32.4, 34.2,
  32.6, 32.4, 32.3, 32.3, 32.6, 31.2, 31.2, 29.6, 28.4, 29.6,
  29.6, 25.8, 23.2, 22.6, 22.0, 20.4, 22.8, 20.6, 19.4, 17.4,
  18.6, 16.0, 16.0, 13.8, 14.6, 13.2, 14.6, 14.4,
];

// ---------- styling ----------
const FONT = '"Liberation Sans", Arial, sans-serif';
const TEXT = '#333333';
const AXIS = '#3a3a3a';
const BOX_FILL = '#ffff00';
const BOX_EDGE = '#1a1a1a';
const MEDIAN = '#e8201a';
const WHISKER = '#2e2e2e';
const MEAN = '#3347c9';

// quality zones, alternating stripe colours per position
const ZONES = [
  { lo: 28, hi: 38, dark: '#afe6af', light: '#c3e6c3' },
  { lo: 20, hi: 28, dark: '#e6d7af', light: '#e6dcc3' },
  { lo: 0, hi: 20, dark: '#e6afaf', light: '#e6c3c3' },
];

// layout
const YW = 30;
const XH = 22;
const MT = 5;
const MR = 12;
const PLOT_H = 333;
const COLS = [
  { plotLeft: 60, plotWidth: 538 },
  { plotLeft: 632, plotWidth: 535 },
];
const ROW_TOPS = [20.5, 380, 738.5, 1099];

type Stats = {
  p10: number[];
  q1: number[];
  med: number[];
  q3: number[];
  p90: number[];
  mean: number[];
};

function buildRows(s: Stats) {
  return positions.map((pos, i) => ({
    pos,
    base: s.p10[i],
    wLow: Math.max(0, s.q1[i] - s.p10[i]),
    boxLow: Math.max(0, s.med[i] - s.q1[i]),
    boxHigh: Math.max(0, s.q3[i] - s.med[i]),
    wHigh: Math.max(0, s.p90[i] - s.q3[i]),
    mean: s.mean[i],
  }));
}

const Empty = () => <g />;

function LowWhisker(props: any) {
  const { x, y, width, height } = props;
  if (!(height > 0.01)) return <g />;
  const cx = x + width / 2;
  const cap = width * 0.4;
  return (
    <g>
      <line x1={cx} x2={cx} y1={y} y2={y + height} stroke={WHISKER} strokeWidth={1} />
      <line x1={cx - cap} x2={cx + cap} y1={y + height} y2={y + height} stroke={WHISKER} strokeWidth={1} />
    </g>
  );
}

function HighWhisker(props: any) {
  const { x, y, width, height } = props;
  if (!(height > 0.01)) return <g />;
  const cx = x + width / 2;
  const cap = width * 0.4;
  return (
    <g>
      <line x1={cx} x2={cx} y1={y} y2={y + height} stroke={WHISKER} strokeWidth={1} />
      <line x1={cx - cap} x2={cx + cap} y1={y} y2={y} stroke={WHISKER} strokeWidth={1} />
    </g>
  );
}

function BoxLower(props: any) {
  const { x, y, width, height } = props;
  const h = height > 0 ? height : 0;
  return (
    <g>
      {h > 0 && <rect x={x} y={y} width={width} height={h} fill={BOX_FILL} />}
      <path d={`M${x},${y} V${y + h} H${x + width} V${y}`} fill="none" stroke={BOX_EDGE} strokeWidth={1} />
    </g>
  );
}

function BoxUpper(props: any) {
  const { x, y, width, height } = props;
  const h = height > 0 ? height : 0;
  return (
    <g>
      {h > 0 && <rect x={x} y={y} width={width} height={h} fill={BOX_FILL} />}
      <path d={`M${x},${y + h} V${y} H${x + width} V${y + h}`} fill="none" stroke={BOX_EDGE} strokeWidth={1} />
      <line x1={x} x2={x + width} y1={y + h} y2={y + h} stroke={MEDIAN} strokeWidth={1.3} />
    </g>
  );
}

function PositionTick(props: any) {
  const { x, y, payload } = props;
  if (!shownPositions.includes(payload.value)) return <g />;
  return (
    <text x={x} y={y} dy="0.71em" textAnchor="middle" fontSize={8} fill={TEXT} fontFamily={FONT}>
      {payload.value}
    </text>
  );
}

function QualityPanel({ stats, col, row }: { stats: Stats; col: number; row: number }) {
  const data = buildRows(stats);
  const { plotLeft, plotWidth } = COLS[col];
  const width = YW + plotWidth + MR;
  const height = MT + PLOT_H + XH;
  return (
    <div style={{ position: 'absolute', left: plotLeft - YW, top: ROW_TOPS[row] - MT }}>
      <ComposedChart
        width={width}
        height={height}
        data={data}
        margin={{ top: MT, right: MR, bottom: 0, left: 0 }}
        barCategoryGap="12%"
        barGap={0}
      >
        {positions.map((pos, i) =>
          ZONES.map((z) => (
            <ReferenceArea
              key={`${pos}-${z.lo}`}
              x1={pos}
              x2={pos}
              y1={z.lo}
              y2={z.hi}
              fill={i % 2 === 0 ? z.dark : z.light}
              fillOpacity={1}
              stroke="none"
              strokeWidth={0}
            />
          ))
        )}
        <XAxis
          dataKey="pos"
          type="category"
          interval={0}
          height={XH}
          tickLine={false}
          tickSize={0}
          tickMargin={4}
          axisLine={{ stroke: AXIS }}
          tick={<PositionTick />}
        />
        <YAxis
          type="number"
          domain={[0, 38]}
          ticks={qualityTicks}
          interval={0}
          width={YW}
          tickLine={false}
          tickSize={0}
          tickMargin={3}
          axisLine={{ stroke: AXIS }}
          tick={{ fontSize: 8, fill: TEXT, fontFamily: FONT }}
        />
        <Bar dataKey="base" stackId="q" shape={Empty} isAnimationActive={false} />
        <Bar dataKey="wLow" stackId="q" shape={LowWhisker} isAnimationActive={false} />
        <Bar dataKey="boxLow" stackId="q" shape={BoxLower} isAnimationActive={false} />
        <Bar dataKey="boxHigh" stackId="q" shape={BoxUpper} isAnimationActive={false} />
        <Bar dataKey="wHigh" stackId="q" shape={HighWhisker} isAnimationActive={false} />
        <Line
          dataKey="mean"
          type="linear"
          stroke={MEAN}
          strokeWidth={1.2}
          dot={false}
          activeDot={false}
          isAnimationActive={false}
        />
      </ComposedChart>
    </div>
  );
}

const panels: { stats: Stats; col: number; row: number }[] = [
  { col: 0, row: 0, stats: { p10: aLeftP10, q1: aLeftQ1, med: aLeftMedian, q3: aLeftQ3, p90: aLeftP90, mean: aLeftMean } },
  { col: 1, row: 0, stats: { p10: aRightP10, q1: aRightQ1, med: aRightMedian, q3: aRightQ3, p90: aRightP90, mean: aRightMean } },
  { col: 0, row: 1, stats: { p10: bLeftP10, q1: bLeftQ1, med: bLeftMedian, q3: bLeftQ3, p90: bLeftP90, mean: bLeftMean } },
  { col: 1, row: 1, stats: { p10: bRightP10, q1: bRightQ1, med: bRightMedian, q3: bRightQ3, p90: bRightP90, mean: bRightMean } },
  { col: 0, row: 2, stats: { p10: cLeftP10, q1: cLeftQ1, med: cLeftMedian, q3: cLeftQ3, p90: cLeftP90, mean: cLeftMean } },
  { col: 1, row: 2, stats: { p10: cRightP10, q1: cRightQ1, med: cRightMedian, q3: cRightQ3, p90: cRightP90, mean: cRightMean } },
  { col: 0, row: 3, stats: { p10: dLeftP10, q1: dLeftQ1, med: dLeftMedian, q3: dLeftQ3, p90: dLeftP90, mean: dLeftMean } },
  { col: 1, row: 3, stats: { p10: dRightP10, q1: dRightQ1, med: dRightMedian, q3: dRightQ3, p90: dRightP90, mean: dRightMean } },
];

const LETTER_Y = [187, 549, 911, 1273];

export default function App() {
  return (
    <div
      style={{
        position: 'absolute',
        left: 0,
        top: 0,
        width: 1172,
        height: 1458,
        background: '#ffffff',
        fontFamily: FONT,
        overflow: 'hidden',
      }}
    >
      {panels.map((p) => (
        <QualityPanel key={`${p.col}-${p.row}`} stats={p.stats} col={p.col} row={p.row} />
      ))}

      {[339, 910].map((cx) => (
        <div
          key={`title-${cx}`}
          style={{
            position: 'absolute',
            left: cx - 150,
            width: 300,
            top: 6,
            textAlign: 'center',
            fontSize: 7.3,
            lineHeight: '10px',
            color: TEXT,
            whiteSpace: 'nowrap',
          }}
        >
          {chartTitle}
        </div>
      ))}

      {[339, 904].map((cx) => (
        <div
          key={`xt-${cx}`}
          style={{
            position: 'absolute',
            left: cx - 100,
            width: 200,
            top: 1446,
            textAlign: 'center',
            fontSize: 7.3,
            lineHeight: '10px',
            color: TEXT,
            whiteSpace: 'nowrap',
          }}
        >
          {axisTitle}
        </div>
      ))}

      {panelLetters.map((t, i) => (
        <div
          key={t}
          style={{
            position: 'absolute',
            left: 0,
            width: 41,
            top: LETTER_Y[i] - 12,
            textAlign: 'center',
            fontSize: 18,
            lineHeight: '24px',
            fontWeight: 700,
            color: '#111111',
          }}
        >
          {t}
        </div>
      ))}
    </div>
  );
}
